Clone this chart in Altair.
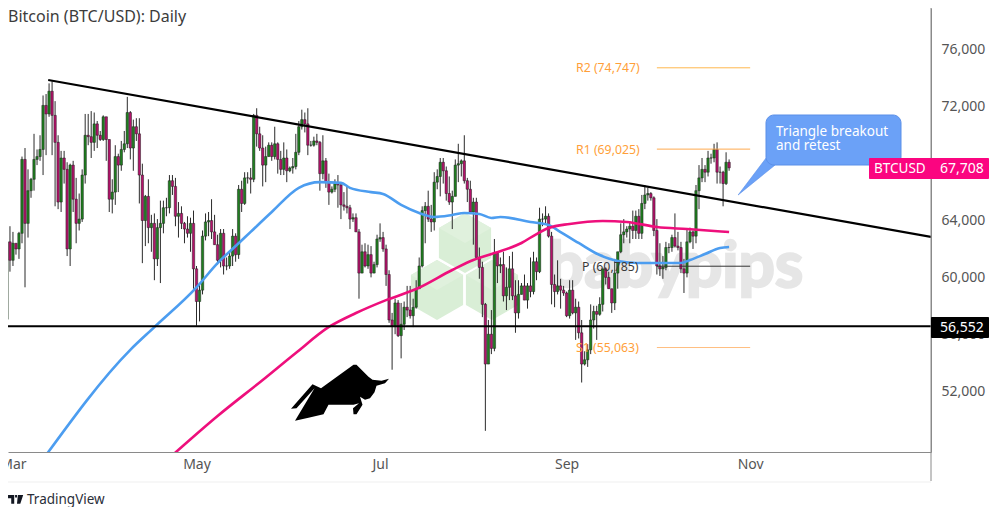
import altair as alt
import pandas as pd

# Daily candles, 27 Feb to 25 Oct, grouped by month
closes = [
 57050,62500,61200,
 62400,62000,63100,68300,63800,66100,66900,68300,68500,69000,72100,71500,73100,71400,69500,65300,68400,67600,62000,67900,65500,63800,64100,67200,70000,69900,69500,70800,70000,69700,71300,
 69700,65500,66000,68500,67900,69000,69400,71600,69100,70600,70100,67200,64000,65700,63500,63800,61300,63500,63800,64900,64900,66800,66400,64300,64500,63800,63400,63100,63800,60600,
 58300,59100,62900,63900,64000,63200,62300,61200,63100,60800,60800,61500,62900,61600,66200,65200,67000,67000,66900,71400,70100,69100,67900,68500,69300,68500,69400,68300,67600,68400,67500,
 67700,67800,68800,70600,71100,70800,69300,69300,69600,69500,67300,68200,66700,66000,66200,66600,66500,65100,65000,64900,64100,64200,63200,60300,61800,60800,61600,60300,60900,62700,
 62800,62000,60200,57000,56600,58200,55900,56700,57900,57700,57300,57900,59200,60800,64700,65000,64100,63900,66700,67100,68100,67500,65900,65300,65700,67900,68000,68200,66800,66200,64600,
 65300,61400,60700,58100,53900,56000,55000,61700,60800,60900,58700,59300,60600,58700,57500,58800,59400,58400,59400,59000,61100,60400,64100,64100,64300,62900,59500,59000,59400,59100,58900,
 57300,59100,57500,57900,56100,53900,54200,54900,57000,57600,57400,58100,60600,60000,59200,58200,60300,61800,63000,63200,63400,63600,63300,64300,63100,65200,65800,65900,65600,63300,
 60800,60600,60700,62100,62100,62800,62200,62100,60600,60300,62500,63200,62900,66100,67000,67600,67400,68400,68400,69000,67400,67400,66600,68100,67708,
]
highs = [
 57500,63900,63600,
 63200,62400,63200,68500,69100,67600,67000,70100,69000,70000,72800,72900,73650,73800,72400,70000,68900,68900,68100,68000,68200,67000,65900,67600,71500,71500,71700,71600,71000,70300,71400,
 71300,69700,66900,69300,68700,69600,70300,72700,71700,71100,71200,71200,68000,65800,66900,64400,64500,64100,65400,65400,65600,67200,67200,67000,65300,65000,63900,64300,64200,64700,
 60800,59500,63300,64500,64600,65500,64400,63000,63400,63400,61400,61800,63400,63100,66500,66800,67400,67400,67700,71500,71900,70600,70000,69200,69500,69500,70600,69500,68900,69500,69000,
 67800,68400,70100,71000,71800,71600,71900,69600,69900,70100,69600,70000,68400,67300,66400,66900,67200,66600,66000,66400,65100,64500,64500,63400,62300,62400,62300,62200,61100,63000,
 63800,63200,62300,60500,57500,58500,58400,58200,58300,59400,59400,58500,59800,61400,65000,65300,66100,65100,67400,67600,68400,68400,67800,67100,66100,68300,69400,68300,70000,67000,66800,
 65600,65600,62100,61100,58200,57000,57700,62700,61700,61400,61800,60700,61500,61800,59800,59800,59600,60200,59600,61400,61800,61400,64900,64500,65000,64500,63200,60200,61200,59900,59400,
 59000,59800,59800,58500,58300,57000,54800,55300,58100,58000,58000,58600,60600,60700,60400,59200,61300,61800,63800,64100,63600,63900,64700,64700,64800,65800,66500,66300,66000,65700,
 64100,62400,61500,62500,62400,63000,64500,63200,62500,61300,63400,63500,63300,66500,67900,68400,67900,68900,68700,69400,69500,67800,67500,68800,68300,
]
lows = [
 54400,56700,60400,
 60800,61600,61300,62400,59300,62800,65600,66100,67900,68200,67200,68600,71300,68600,65000,64800,64600,66600,61500,60800,64600,62400,63300,63900,66600,69300,68400,68900,69100,69600,69600,
 68200,64600,64500,65100,66000,67500,68800,69100,68300,67500,69600,65200,61000,62200,62400,61800,59800,60800,59600,63100,64300,64500,65800,63600,62800,63400,62400,62800,61800,59200,
 56600,56900,58800,62600,62900,62700,62300,60900,60700,60200,60500,60600,60800,61100,61300,64600,65100,66600,65900,66700,69200,68900,66400,66700,68500,68200,68300,67300,67200,67200,66700,
 67400,67300,67600,68600,70400,70200,68600,69200,69200,69300,66100,66900,66300,65100,65900,66000,64900,64100,64700,64500,63400,63900,63200,58500,60300,60700,60600,60000,60300,60700,
 62500,61800,59400,56800,53500,56000,55800,54300,56300,57200,57100,56500,57800,59200,60700,62400,63900,63200,63300,66200,65700,66600,65400,65100,63400,65700,66700,67100,66600,65300,64500,
 62300,61300,59900,57200,49200,53900,54600,54800,59600,60300,58300,57700,58400,58400,56100,57100,58800,58400,57800,58600,58800,59800,60300,63600,63800,62800,58100,57900,58800,57800,58700,
 57200,57100,57400,55600,55700,52600,53800,53700,54600,56400,55600,57300,57600,59500,59200,57500,57700,59200,61700,62400,62800,62400,62700,62700,62700,62700,64800,65400,65400,62900,
 60200,60100,59900,60500,61700,61800,62100,61900,60300,58900,60000,62400,62000,62400,64800,66700,66700,67100,68000,68100,66600,66600,65000,66500,67500,
]
opening_open = 54500

# Moving averages: days since 27 Feb, price
blue_days = [13,42,50,64,71,78,82,89,98,105,112,115,122,126,132,138,143,149,153,158,162,165,175,181,185,191,198,204,211,225,228,233,238,241]
blue_vals = [47200,54900,56500,59300,61000,62400,63200,64600,66300,66700,66650,66300,66000,65870,65100,64530,64250,64390,64530,64460,64180,64250,63900,63680,63190,62420,61570,61150,61010,61010,61220,61640,62070,62140]
pink_days = [55,71,86,97,108,117,127,137,149,156,163,172,177,181,188,199,207,217,227,241]
pink_vals = [47300,50245,52780,54680,56510,57490,58400,59180,60520,61220,61710,62420,63050,63470,63760,63970,63900,63540,63400,63190]

# Pivot levels for October
pivot_names = ["R2 (74,747)", "R1 (69,025)", "P (60,785)", "S1 (55,063)"]
pivot_vals = [74747, 69025, 60785, 55063]
pivot_cols = ["#ffb74d", "#ffa94d", "#333333", "#ffbe80"]
pivot_text = ["#ff9f3a", "#ff9f3a", "#3a3a3a", "#ff9f3a"]

support = 56552
last_price = 67708
trend_days = [14.7, 308.1]
trend_vals = [73889, 62841]

tick_prices = [52000, 56000, 60000, 64000, 68000, 72000, 76000]
month_ticks = ["2024-03-01", "2024-05-01", "2024-07-01", "2024-09-01", "2024-11-01"]

TEXT_FONT = "Noto Sans"
START = pd.Timestamp("2024-02-27")
def iso(d):
    return d.strftime("%Y-%m-%dT%H:%M:%SZ")
def day(n):
    return iso(START + pd.Timedelta(days=n))

dates = [day(i) for i in range(len(closes))]
opens = [opening_open] + closes[:-1]
candles = pd.DataFrame({"date": dates, "open": opens, "close": closes, "high": highs, "low": lows})
candles["dir"] = ["up" if c >= o else "down" for o, c in zip(opens, closes)]

xs = alt.Scale(type="utc", domain=[day(1.35), day(308.1)], nice=False, padding=0)
ys = alt.Scale(domain=[47711, 78955], zero=False, nice=False)
x_axis = alt.Axis(values=[m + "T00:00:00Z" for m in month_ticks], labelExpr="utcFormat(datum.value,'%b')",
                  labelFontSize=14, labelColor="#555555", labelFont=TEXT_FONT, labelPadding=5,
                  domainColor="#8a8a8a", ticks=False, grid=False, labelOverlap=False, title=None)
y_axis = alt.Axis(orient="right", values=tick_prices, labelExpr="format(datum.value,',')", labelFontSize=14, labelColor="#555555",
                  labelFont=TEXT_FONT, labelPadding=10, domainColor="#8a8a8a", ticks=False, grid=False, title=None)
X = alt.X("date:T", scale=xs, axis=x_axis)
Y = alt.Y("open:Q", scale=ys, axis=y_axis)

one = pd.DataFrame({"a": [0]})
def px(v):
    return alt.value(v - 8)
def note(x, y, s, color, size=13, weight="normal", align="left", font=TEXT_FONT, **kw):
    return alt.Chart(one).mark_text(align=align, baseline="middle", fontSize=size, fontWeight=weight, font=font,
                                    color=color, **kw).encode(x=px(x), y=px(y), text=alt.value(s))
def symbol(x, y, path, size, color):
    return alt.Chart(one).mark_point(shape=path, size=size, filled=True, fill=color, opacity=1, strokeWidth=0).encode(x=px(x), y=px(y))

HEX = "M0,-1L0.87,-0.5L0.87,0.5L0,1L-0.87,0.5L-0.87,-0.5Z"
HEX_TOP = "M0,-1L0.87,-0.5L0,0L-0.87,-0.5Z"
hexes = [symbol(x, y, HEX, 3600, "#d9eed6") for x, y in [(465, 243), (437, 290), (492, 290)]]
hexes += [symbol(x, y, HEX_TOP, 3600, "#e0f1dd") for x, y in [(465, 243), (437, 290), (492, 290)]]
brand = note(548, 268, "babypips", "#e6e6e6", size=64, weight="bold", font="Lato", stroke="#e6e6e6", strokeWidth=2.5)

wicks = alt.Chart(candles).mark_rule(color="#2b2b2b", strokeWidth=1, clip=True).encode(
    x=X, y=alt.Y("low:Q", scale=ys, axis=y_axis), y2="high:Q")
bodies = alt.Chart(candles).mark_bar(size=2.4, stroke="#1f1f1f", strokeWidth=0.5, clip=True).encode(
    x=X, y=Y, y2="close:Q",
    color=alt.Color("dir:N", scale=alt.Scale(domain=["up", "down"], range=["#1f7f1f", "#b3126a"]), legend=None))

def ma(days, vals, color, width):
    d = pd.DataFrame({"date": [day(n) for n in days], "open": vals})
    return alt.Chart(d).mark_line(color=color, strokeWidth=width, clip=True, interpolate="monotone").encode(
        x=X, y=Y)
blue = ma(blue_days, blue_vals, "#4c9df0", 2.6)
pink = ma(pink_days, pink_vals, "#ee0f7c", 2.6)

pivot_df = pd.DataFrame({"date": [day(217)] * 4, "end": [day(248)] * 4, "open": pivot_vals, "c": pivot_cols})
pivots = alt.Chart(pivot_df).mark_rule(strokeWidth=1, clip=True).encode(
    x=X, x2="end:T", y=Y, color=alt.Color("c:N", scale=None, legend=None))
pivot_labels = [note(x, y, s, c, size=12.3) for x, y, s, c in zip([576, 576, 582, 576], [68, 150, 267, 348], pivot_names, pivot_text)]

trend_df = pd.DataFrame({"date": [day(trend_days[0])], "end": [day(trend_days[1])], "open": [trend_vals[0]], "close": [trend_vals[1]]})
trend = alt.Chart(trend_df).mark_rule(color="#000000", strokeWidth=2.2, clip=True).encode(
    x=X, x2="end:T", y=Y, y2="close:Q")
flat_df = pd.DataFrame({"open": [support]})
flat = alt.Chart(flat_df).mark_rule(color="#000000", strokeWidth=2, clip=True).encode(y=Y)

# callout
tail_df = pd.DataFrame({"date": [day(244), day(253.3), day(256.3)], "open": [65796, 68400, 68400], "close": [65796, 67394, 67908]})
tail = alt.Chart(tail_df).mark_area(color="#6ba1f7", stroke="#5b8fe8", strokeWidth=0.6).encode(x=X, y=Y, y2="close:Q")
box = alt.Chart(one).mark_rect(fill="#6ba1f7", stroke="#5b8fe8", strokeWidth=1, cornerRadius=8).encode(
    x=px(766), x2=px(901), y=px(115), y2=px(165))
box_t1 = note(776, 132, "Triangle breakout", "#ffffff", size=13.5)
box_t2 = note(776, 146, "and retest", "#ffffff", size=13.5)

# tags at the price axis
tag1 = alt.Chart(one).mark_rect(fill="#fb0580", cornerRadius=1).encode(x=px(869), x2=px(989), y=px(158), y2=px(179))
tag1_a = note(874, 169, "BTCUSD", "#ffffff", size=13.5)
tag1_b = note(940, 169, "67,708", "#ffffff", size=14)
tag2 = alt.Chart(one).mark_rect(fill="#000000", cornerRadius=1).encode(x=px(931), x2=px(989), y=px(317), y2=px(338))
tag2_t = note(940, 328, "56,552", "#ffffff", size=14)

axis_ext = alt.Chart(one).mark_rule(color="#8a8a8a", strokeWidth=1).encode(x=px(931), y=px(3), y2=px(481))
foot = alt.Chart(one).mark_rule(color="#efefef", strokeWidth=1).encode(x=px(3), x2=px(931), y=px(482))

title = note(8, 17, "Bitcoin (BTC/USD): Daily", "#3c3c3c", size=16)
BULL = ("M-0.98,0.31L-0.55,-0.18L-0.38,-0.10L0.27,-0.57L0.33,-0.57L0.57,-0.33L0.65,-0.27L0.83,-0.25L0.98,-0.29L0.90,-0.20"
        "L0.73,-0.15L0.69,-0.02L0.60,0.10L0.50,0.13L0.40,0.07L0.45,0.23L0.33,0.42L0.27,0.42L0.26,0.30L0.38,0.20L0.27,0.23"
        "L-0.23,0.23L-0.33,0.42L-0.63,0.49L-0.90,0.55L-0.63,0.10L-0.51,-0.10L-0.87,0.30Z")
bull = symbol(340, 393.3, BULL, 10000, "#000000")
TV = ("M-0.70,-0.38L-0.12,-0.38L-0.12,0.44L-0.40,0.44L-0.40,-0.06L-0.70,-0.06Z"
      "M-0.04,-0.38L0.14,-0.38L0.14,-0.13L-0.04,-0.13Z"
      "M0.22,-0.38L0.72,-0.38L0.45,0.44L0.14,0.44Z")
logo = symbol(15.5, 499, TV, 455, "#131722")
tv_text = note(27, 500, "TradingView", "#2a2e39", size=13.5)

chart = alt.layer(
    *hexes, brand, wicks, bodies, blue, pink, pivots, *pivot_labels, trend, flat, bull,
    tail, box, box_t1, box_t2, axis_ext, foot, tag1, tag1_a, tag1_b, tag2, tag2_t, title, logo, tv_text,
).resolve_scale(x="shared", y="shared").properties(
    width=923, height=444,
    padding={"left": 0, "top": 0, "right": 61, "bottom": 55},
    autosize=alt.AutoSizeParams(type="none"),
).configure_view(stroke=None)

chart.save("out.html", embed_options={"renderer": "svg", "actions": False})
print(len(closes), len(highs), len(lows))
